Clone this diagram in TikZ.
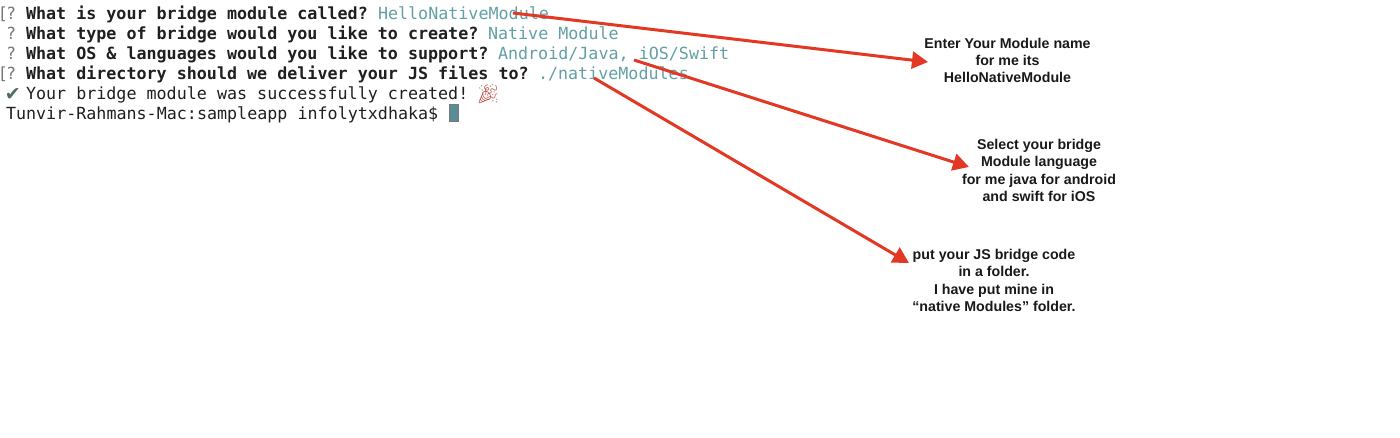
\documentclass[tikz,border=0pt]{standalone}
\usepackage{fontspec}
\setmainfont{Liberation Sans}
\setmonofont{DejaVu Sans Mono}
\newfontfamily\emojifont{Noto Emoji}
\newfontfamily\checkfont{DejaVu Sans}
\usetikzlibrary{arrows.meta}
\definecolor{termteal}{RGB}{98,160,166}
\definecolor{termgray}{RGB}{120,120,120}
\definecolor{termgreen}{RGB}{75,110,100}
\definecolor{arrowred}{RGB}{226,56,36}
\definecolor{confetti}{RGB}{190,90,80}
\definecolor{cursorfill}{RGB}{90,140,150}
\tikzset{
  x=1pt,y=-1pt,
  term/.style={anchor=base west,inner sep=0pt,outer sep=0pt,font=\fontsize{16.7}{20}\ttfamily,text=black!88},
  prompt/.style={term,text=termgray},
  ans/.style={term,text=termteal},
  note/.style={align=center,inner sep=0pt,font=\fontsize{14.2}{17.3}\selectfont\bfseries,text=black!90},
  callout/.style={draw=arrowred,line width=3pt,-{Triangle[length=16pt,width=17pt]}},
}
\begin{document}
\begin{tikzpicture}
\useasboundingbox (0,0) rectangle (1400,438);
\fill[white] (0,0) rectangle (1400,438);
% prompts
\node[prompt] (b1) at (-2,20) {[};
\node[prompt] (p1) at (6,20) {?};
\node[prompt] (p2) at (6,40) {?};
\node[prompt] (p3) at (6,60) {?};
\node[prompt] (b4) at (-2,80) {[};
\node[prompt] (p4) at (6,80) {?};
\node[term,text=termgreen,font=\fontsize{19}{20}\checkfont] (chk) at (5,100.5) {✔};
% questions
\node[term] (q1) at (26,20) {\bfseries What is your bridge module called?};
\node[term] (q2) at (26,40) {\bfseries What type of bridge would you like to create?};
\node[term] (q3) at (26,60) {\bfseries What OS \& languages would you like to support?};
\node[term] (q4) at (26,80) {\bfseries What directory should we deliver your JS files to?};
\node[term] (msg) at (26,100) {Your bridge module was successfully created!};
\node[term] (shell) at (6,120) {Tunvir-Rahmans-Mac:sampleapp infolytxdhaka\$};
% answers
\node[ans] (a1) at (378,20) {HelloNativeModule};
\node[ans] (a2) at (488,40) {Native Module};
\node[ans] (a3) at (498,60) {Android/Java, iOS/Swift};
\node[ans] (a4) at (538,80) {./nativeModules};
\node[anchor=base west,inner sep=0pt,text=confetti,font=\fontsize{19}{20}\emojifont] (party) at (476,101) {🎉};
\node[draw=termgray,fill=cursorfill,line width=1pt,minimum width=9pt,minimum height=17pt,inner sep=0pt,anchor=north west] (cur) at (448.5,104.5) {};
% notes
\node[note] (n1) at (1007.5,60.5) {Enter Your Module name\\for me its\\HelloNativeModule};
\node[note] (n2) at (1039,170.5) {Select your bridge\\Module language\\for me java for android\\and swift for iOS};
\node[note] (n3) at (994,280.5) {put your JS bridge code\\in a folder.\\I have put mine in\\“native Modules” folder.};
% connector ends
\coordinate (s1) at (513,13);
\coordinate (s2) at (634,60);
\coordinate (s3) at (594,78);
\coordinate (e1) at (928,62);
\coordinate (e2) at (969,167);
\coordinate (e3) at (909,263);
\draw[callout] (s1) -- (e1);
\draw[callout] (s2) -- (e2);
\draw[callout] (s3) -- (e3);
\end{tikzpicture}
\end{document}
